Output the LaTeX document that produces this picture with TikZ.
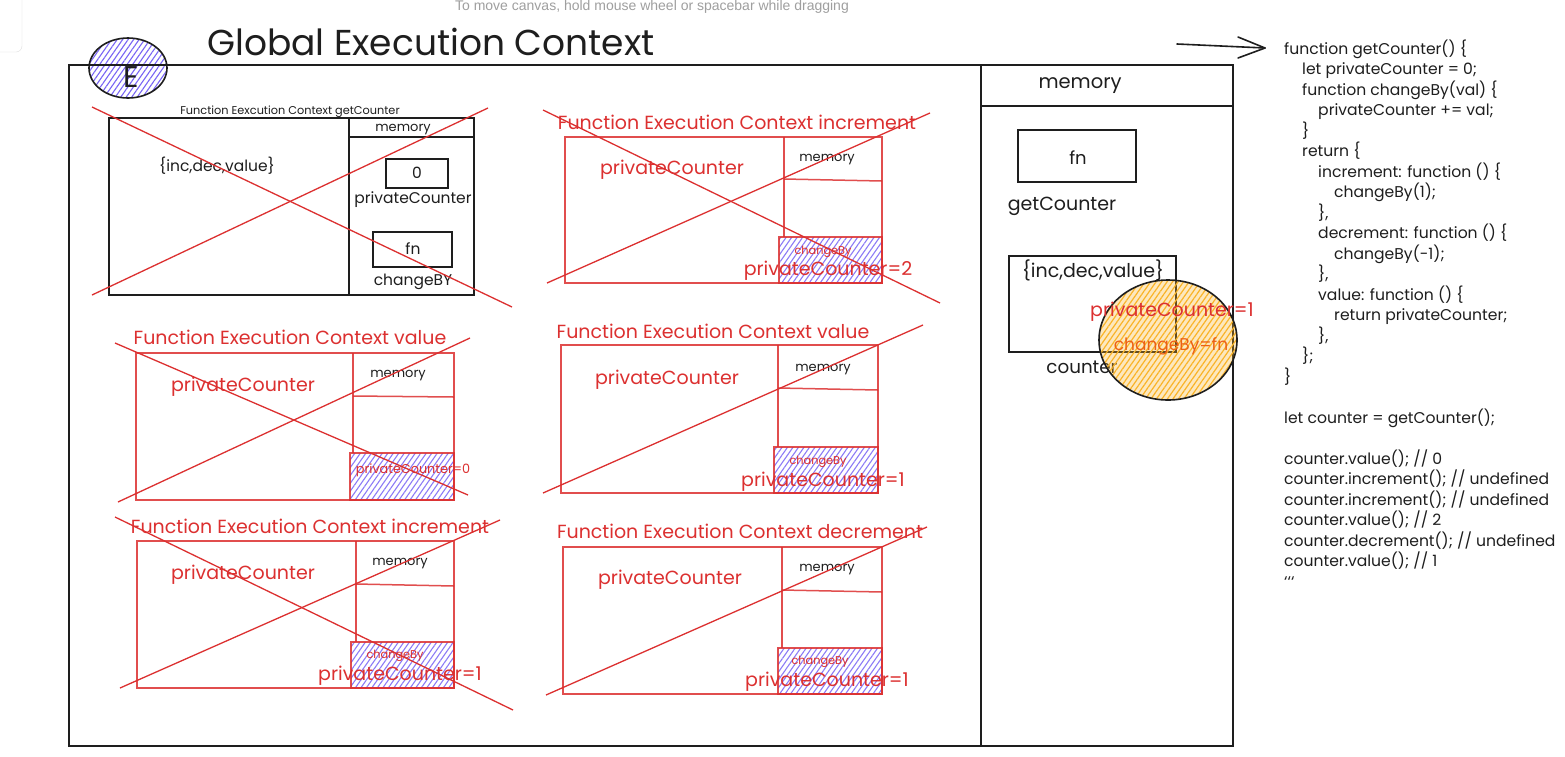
\documentclass[tikz,border=0pt]{standalone}
\usepackage{fontspec}
\setmainfont{Poppins}
\newfontfamily\uifont{Liberation Sans}
\usetikzlibrary{patterns.meta,calc}
\definecolor{exred}{RGB}{220,48,48}
\definecolor{exorange}{RGB}{236,96,20}
\definecolor{hatchv}{RGB}{120,100,245}
\definecolor{hatcho}{RGB}{250,180,40}
\definecolor{ink}{RGB}{30,30,30}
\newcommand\fsz[1]{\fontsize{#1}{#1}\selectfont}
\tikzset{
  blk/.style={draw=ink, line width=1.6},
  rbox/.style={draw=exred, line width=1.5, draw opacity=0.85},
  xline/.style={draw=exred, line width=1.3},
  vhatch/.style={pattern={Lines[angle=55,distance=4.5pt,line width=1.1pt]}, pattern color=hatchv},
  ohatch/.style={pattern={Lines[angle=55,distance=4.5pt,line width=1.2pt]}, pattern color=hatcho},
  txt/.style={inner sep=0, text=ink},
  rtxt/.style={inner sep=0, text=exred},
  big/.style={font=\fsz{19}},
  mid/.style={font=\fsz{15.5}},
  small/.style={font=\fsz{11.3}},
  code/.style={inner sep=0, text=ink, anchor=base west, font=\fsz{15.6}},
}
\begin{document}
\begin{tikzpicture}[x=1pt,y=-1pt]
\useasboundingbox (0,0) rectangle (1565,756);
\clip (0,0) rectangle (1565,756);
\fill[white] (0,0) rectangle (1565,756);

% UI bits
\draw[gray!25, fill=white, rounded corners=6] (-20,-20) rectangle (22,52);
\node[inner sep=0, text=gray!75, font=\uifont\fsz{14}] (hint) at (652,7) {To move canvas, hold mouse wheel or spacebar while dragging};

% title and E badge
\node[txt, font=\fsz{36}, anchor=base west] (title) at (207,55) {Global Execution Context};
\draw[blk, vhatch] (128,68) ellipse [x radius=39, y radius=30];

% global box
\draw[blk, line width=1.8] (69,65) rectangle (1233,746);
\draw[blk] (981,65) -- (981,746);
\draw[blk] (981,106) -- (1233,106);
\node[txt, font=\fsz{30}] (E) at (131,77) {E};

% ---- box 1 getCounter (black)
\draw[blk] (109,118) rectangle (474,295);
\draw[blk] (349,118) -- (349,295);
\draw[blk, line width=2.2] (349,137) -- (474,137);
\node[txt, small] (t1) at (290,112) {Function Eexcution Context getCounter};
\node[txt, font=\fsz{13}] (m1) at (403,130) {memory};
\node[txt, mid] (o1) at (217,166) {\{inc,dec,value\}};
\draw[blk] (386,159) rectangle (448,188);
\node[txt, mid] (z1) at (417,173) {0};
\node[txt, mid] (pc1) at (413,200) {privateCounter};
\draw[blk] (373,232) rectangle (452,267);
\node[txt, mid] (fn1) at (413,249) {fn};
\node[txt, mid] (cb1) at (413,282) {changeBY};
\draw[xline] (92,107) -- (512,307);
\draw[xline] (92,295) -- (488,108);

% ---- box 2 increment
\draw[rbox, vhatch] (779,237) rectangle (882,283);
\draw[rbox] (565,137) rectangle (882,283);
\draw[rbox] (784,137) -- (784,237);
\draw[rbox] (784,179) -- (882,181);
\node[rtxt, big] (t2) at (737,122) {Function Execution Context increment};
\node[txt, font=\fsz{13}] (m2) at (827,160) {memory};
\node[rtxt, big] (p2) at (672,170) {privateCounter};
\node[rtxt, small] (c2) at (823,252) {changeBy};
\node[rtxt, big] (v2) at (828,271) {privateCounter=2};
\draw[xline] (543,110) -- (940,303);
\draw[xline] (547,283) -- (930,113);

% ---- box 3 value
\draw[rbox, vhatch] (350,453) rectangle (454,500);
\draw[rbox] (136,353) rectangle (454,500);
\draw[rbox] (353,353) -- (353,453);
\draw[rbox] (353,396) -- (454,397);
\node[rtxt, big] (t3) at (290,337) {Function Execution Context value};
\node[txt, font=\fsz{13}] (m3) at (398,376) {memory};
\node[rtxt, big] (p3) at (243,387) {privateCounter};
\node[rtxt, font=\fsz{12.8}] (v3) at (413,470) {privateCounter=0};
\draw[xline] (115,343) -- (468,495);
\draw[xline] (118,502) -- (470,338);

% ---- box 4 value
\draw[rbox, vhatch] (774,447) rectangle (878,493);
\draw[rbox] (561,345) rectangle (878,493);
\draw[rbox] (778,345) -- (778,447);
\draw[rbox] (778,388) -- (878,390);
\node[rtxt, big] (t4) at (713,331) {Function Execution Context value};
\node[txt, font=\fsz{13}] (m4) at (823,370) {memory};
\node[rtxt, big] (p4) at (667,380) {privateCounter};
\node[rtxt, small] (c4) at (818,462) {changeBy};
\node[rtxt, big] (v4) at (823,482) {privateCounter=1};
\draw[xline] (543,493) -- (923,325);

% ---- box 5 increment
\draw[rbox, vhatch] (351,642) rectangle (454,688);
\draw[rbox] (137,541) rectangle (454,688);
\draw[rbox] (356,541) -- (356,642);
\draw[rbox] (356,584) -- (454,586);
\node[rtxt, big] (t5) at (310,526) {Function Execution Context increment};
\node[txt, font=\fsz{13}] (m5) at (400,564) {memory};
\node[rtxt, big] (p5) at (243,575) {privateCounter};
\node[rtxt, small] (c5) at (395,656) {changeBy};
\node[rtxt, big] (v5) at (400,676) {privateCounter=1};
\draw[xline] (115,517) -- (513,710);
\draw[xline] (120,688) -- (500,520);

% ---- box 6 decrement
\draw[rbox, vhatch] (778,648) rectangle (882,694);
\draw[rbox] (563,547) rectangle (882,694);
\draw[rbox] (782,547) -- (782,648);
\draw[rbox] (782,590) -- (882,592);
\node[rtxt, big] (t6) at (740,531) {Function Execution Context decrement};
\node[txt, font=\fsz{13}] (m6) at (827,570) {memory};
\node[rtxt, big] (p6) at (670,580) {privateCounter};
\node[rtxt, small] (c6) at (820,662) {changeBy};
\node[rtxt, big] (v6) at (827,682) {privateCounter=1};
\draw[xline] (546,695) -- (927,527);

% ---- right memory panel
\node[txt, font=\fsz{19.5}] (gm) at (1080,86) {memory};
\draw[blk] (1018,130) rectangle (1136,182);
\node[txt, font=\fsz{18}] (gfn) at (1078,158) {fn};
\node[txt, font=\fsz{19}] (ggc) at (1062,206) {getCounter};
\draw[blk] (1009,256) rectangle (1176,352);
\node[txt, font=\fsz{19}] (gobj) at (1093,270) {\{inc,dec,value\}};
\node[txt, font=\fsz{18.3}] (gctr) at (1082,367) {counter};
\draw[blk, preaction={fill=hatcho, fill opacity=0.3}, ohatch] (1168,340) ellipse [x radius=69, y radius=60];
\node[rtxt, big] (gpc) at (1172,312) {privateCounter=1};
\node[inner sep=0, text=exorange, font=\fsz{17}] (gcb) at (1171,346) {changeBy=fn};

% arrow to code
\coordinate (a0) at (1177,44);
\coordinate (a1) at (1265,48);
\draw[blk, line cap=round] (a0) -- (a1);
\draw[blk, line cap=round, line join=round] ($(a1)+(-27,-11)$) -- (a1) -- ($(a1)+(-27,10)$);

% code
\node[code] (l0) at (1284,54) {function getCounter() \{};
\node[code] (l1) at (1302,74.5) {let privateCounter = 0;};
\node[code] (l2) at (1302,95) {function changeBy(val) \{};
\node[code] (l3) at (1318,115.5) {privateCounter += val;};
\node[code] (l4) at (1302,136) {\}};
\node[code] (l5) at (1302,156.5) {return \{};
\node[code] (l6) at (1318,177) {increment: function () \{};
\node[code] (l7) at (1334,197.5) {changeBy(1);};
\node[code] (l8) at (1318,218) {\},};
\node[code] (l9) at (1318,238.5) {decrement: function () \{};
\node[code] (l10) at (1334,259) {changeBy(-1);};
\node[code] (l11) at (1318,279.5) {\},};
\node[code] (l12) at (1318,300) {value: function () \{};
\node[code] (l13) at (1334,320.5) {return privateCounter;};
\node[code] (l14) at (1318,341) {\},};
\node[code] (l15) at (1302,361.5) {\};};
\node[code] (l16) at (1284,382) {\}};
\node[code] (l18) at (1284,423) {let counter = getCounter();};
\node[code] (l20) at (1284,464) {counter.value(); // 0};
\node[code] (l21) at (1284,484.5) {counter.increment(); // undefined};
\node[code] (l22) at (1284,505) {counter.increment(); // undefined};
\node[code] (l23) at (1284,525.5) {counter.value(); // 2};
\node[code] (l24) at (1284,546) {counter.decrement(); // undefined};
\node[code] (l25) at (1284,566.5) {counter.value(); // 1};
\node[code] (l26) at (1284,587) {\symbol{96}\symbol{96}\symbol{96}};
\end{tikzpicture}
\end{document}
